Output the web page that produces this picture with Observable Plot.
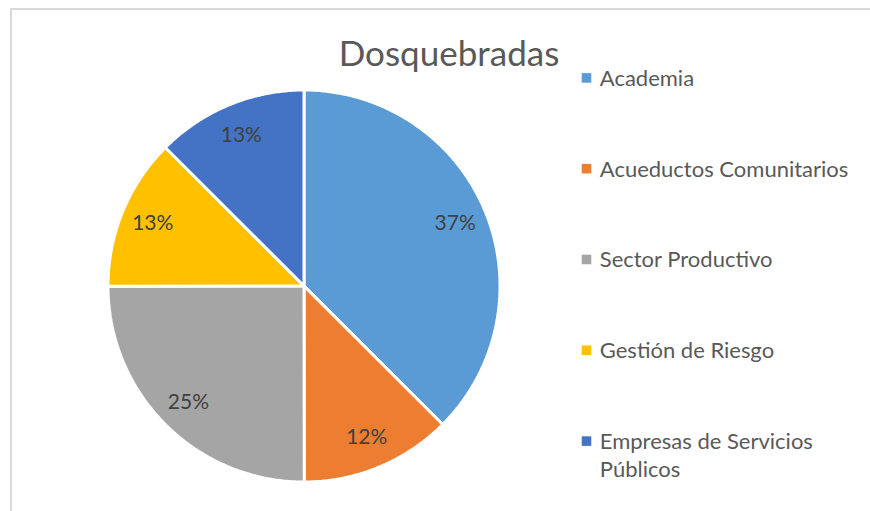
<!DOCTYPE html>
<html><head><meta charset="utf-8">
<script src="https://cdn.jsdelivr.net/npm/d3@7"></script>
<script src="https://cdn.jsdelivr.net/npm/@observablehq/plot@0.6"></script>
<style>
body{margin:0;background:#fff;}
#wrap{position:relative;width:870px;height:511px;overflow:hidden;background:#fff;}
#wrap svg{position:absolute;left:0;top:0;}
#border{position:absolute;left:10px;top:8px;width:1000px;height:1000px;border-left:2px solid #d9d9d9;border-top:2px solid #d9d9d9;pointer-events:none;}
</style></head><body><div id="wrap"></div>
<script>
const title = "Dosquebradas";
const categories = ["Academia", "Acueductos Comunitarios", "Sector Productivo", "Gestión de Riesgo", "Empresas de Servicios Públicos"];
const values = [37.49, 12.49, 25.0, 12.51, 12.51];
const colors = ["#5B9BD5", "#ED7D31", "#A5A5A5", "#FFC000", "#4472C4"];

const W = 870, H = 511, cx = 303.5, cy = 285.5, R = 196;
const FONT = "Lato, 'Open Sans', sans-serif";
const total = d3.sum(values);

let cum = 0;
const slicePts = [];
const labels = [];
values.forEach((v, i) => {
  const a0 = cum / total * 2 * Math.PI; cum += v; const a1 = cum / total * 2 * Math.PI;
  const n = Math.max(2, Math.ceil((a1 - a0) / (Math.PI / 360)));
  slicePts.push({cat: categories[i], x: 0, y: 0});
  for (let k = 0; k <= n; k++) {
    const a = a0 + (a1 - a0) * k / n;
    slicePts.push({cat: categories[i], x: Math.sin(a), y: Math.cos(a)});
  }
  slicePts.push({cat: categories[i], x: 0, y: 0});
  const am = (a0 + a1) / 2, lr = 0.835;
  labels.push({cat: categories[i], x: lr * Math.sin(am), y: lr * Math.cos(am), text: d3.format(".0%")(v / total)});
});

const fsL = 22;
const legendMarks = categories.flatMap((c, i) => {
  const base = 81.2 + i * 90.8;
  return [
    Plot.dot([c], {frameAnchor: "top-left", dx: 586, dy: base - 3.8, symbol: "square", r: 5.4, fill: d => d}),
    Plot.text([c], {frameAnchor: "top-left", dx: 599.3, dy: base - 0.71 * fsL, text: d => d, textAnchor: "start",
      lineAnchor: "top", fontSize: fsL, fill: "#595959", fontFamily: FONT, lineWidth: 12.6, lineHeight: 27.7 / fsL})
  ];
});

const chart = Plot.plot({
  width: W, height: H,
  margin: 0,
  style: {fontFamily: FONT, background: "transparent"},
  x: {domain: [-cx / R, (W - cx) / R], range: [0, W], axis: null},
  y: {domain: [-(H - cy) / R, cy / R], range: [H, 0], axis: null},
  color: {domain: categories, range: colors},
  marks: [
    Plot.line(slicePts, {x: "x", y: "y", z: "cat", fill: "cat", stroke: "white", strokeWidth: 3, strokeLinejoin: "miter", curve: "linear"}),
    Plot.text(labels, {x: "x", y: "y", text: "text", fontSize: 21, fill: "#404040", fontFamily: FONT, lineAnchor: "middle"}),
    Plot.text([title], {frameAnchor: "top-left", dx: 448.5, dy: 65, text: d => d, textAnchor: "middle", lineAnchor: "bottom",
      fontSize: 35, fill: "#595959", fontFamily: FONT}),
    ...legendMarks
  ]
});
const wrap = document.getElementById("wrap");
wrap.appendChild(chart);
const b = document.createElement("div"); b.id = "border"; wrap.appendChild(b);
</script>
</body></html>
